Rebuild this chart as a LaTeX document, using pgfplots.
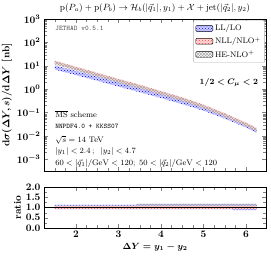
\documentclass[border=0pt]{standalone}
\usepackage{pgfplots}
\pgfplotsset{compat=1.18}
\usetikzlibrary{patterns}
\begin{document}
\begin{tikzpicture}
\pgfplotsset{
  myax/.style={
    scale only axis, width=222pt, xmin=1.25, xmax=6.47,
    tick label style={font=\boldmath},
    minor x tick num=3,
    tick align=inside,
  },
  legend image code/.code={\draw[#1] (0cm,-0.11cm) rectangle (0.6cm,0.11cm);},
  LLst/.style={draw=none, fill=blue!18, postaction={pattern=crosshatch dots, pattern color=blue}},
  NLLst/.style={draw=none, fill=red!15, postaction={pattern=crosshatch dots, pattern color=red!75}},
  HEst/.style={draw=none, pattern=crosshatch, pattern color=gray!70},
}
\begin{axis}[myax, name=main, height=152pt, ymode=log,
  ymin=3.1623e-4, ymax=1e3,
  ytick={1e-3,1e-2,1e-1,1,1e1,1e2,1e3},
  xticklabel=\empty,
  clip=false,
  ylabel={$\mathrm{d}\sigma(\Delta Y, s)/\mathrm{d}\Delta Y$ [nb]},
  ylabel style={font=\bfseries\boldmath, yshift=-2pt},
  title={$\mathrm{p}(P_a) + \mathrm{p}(P_b) \rightarrow \mathcal{H}_b(|\vec{q}_1|, y_1) + \mathcal{X} + \mathrm{jet}(|\vec{q}_2|, y_2)$},
  title style={font=\small, yshift=-3pt},
  legend style={at={(0.995,0.99)}, anchor=north east, font=\footnotesize,
    draw=black!30, rounded corners=1pt, row sep=1pt, inner sep=2pt},
  legend cell align=left,
]
\addplot[LLst, area legend] coordinates {
(1.5,10.47) (2.0,6.03) (2.5,3.467) (3.0,1.950) (3.5,1.122) (4.0,0.631) (4.5,0.3467) (5.0,0.1820) (5.5,0.0832) (6.0,0.03467) (6.25,0.02042)
(6.25,0.01349) (6.0,0.02291) (5.5,0.05495) (5.0,0.1202) (4.5,0.2291) (4.0,0.4169) (3.5,0.7413) (3.0,1.288) (2.5,2.291) (2.0,3.981) (1.5,6.918)
} -- cycle;
\addlegendentry{LL/LO}
\addplot[NLLst, area legend] coordinates {
(1.5,16.60) (2.0,9.120) (2.5,5.012) (3.0,2.754) (3.5,1.549) (4.0,0.8318) (4.5,0.4467) (5.0,0.2188) (5.5,0.09333) (6.0,0.03715) (6.25,0.02188)
(6.25,0.01585) (6.0,0.02692) (5.5,0.06761) (5.0,0.1585) (4.5,0.3236) (4.0,0.6026) (3.5,1.122) (3.0,1.995) (2.5,3.631) (2.0,6.607) (1.5,12.02)
} -- cycle;
\addlegendentry{NLL/NLO$^+$}
\addplot[HEst, area legend] coordinates {
(1.5,15.85) (2.0,8.710) (2.5,4.786) (3.0,2.630) (3.5,1.479) (4.0,0.7943) (4.5,0.4266) (5.0,0.2089) (5.5,0.08913) (6.0,0.03548) (6.25,0.02089)
(6.25,0.01514) (6.0,0.02570) (5.5,0.06457) (5.0,0.1514) (4.5,0.3090) (4.0,0.5754) (3.5,1.072) (3.0,1.905) (2.5,3.467) (2.0,6.310) (1.5,11.48)
} -- cycle;
\addlegendentry{HE-NLO$^+$}
\node[anchor=west, font=\scriptsize\ttfamily, text=black!70] at (rel axis cs:0.035,0.94) {JETHAD v0.5.1};
\node[anchor=west, font=\footnotesize] at (rel axis cs:0.035,0.375) {$\overline{\mathrm{MS}}$ scheme};
\node[anchor=west, font=\scriptsize\ttfamily] at (rel axis cs:0.035,0.295) {NNPDF4.0 + KKSS07};
\node[anchor=west, font=\footnotesize] at (rel axis cs:0.035,0.205) {$\sqrt{s} = 14$ TeV};
\node[anchor=west, font=\footnotesize] at (rel axis cs:0.035,0.128) {$|y_1| < 2.4\,;\;\; |y_2| < 4.7$};
\node[anchor=west, font=\footnotesize] at (rel axis cs:0.035,0.05) {$60 < |\vec{q}_1|/\mathrm{GeV} < 120;\; 50 < |\vec{q}_2|/\mathrm{GeV} < 120$};
\node[anchor=east, font=\footnotesize\boldmath] at (rel axis cs:0.98,0.58) {$1/2 < C_{\mu} < 2$};
\end{axis}
\begin{axis}[myax, at={(main.south west)}, anchor=north west, yshift=-16pt,
  height=41pt, ymin=0, ymax=2, ytick={0,0.5,1,1.5,2},
  minor y tick num=1,
  yticklabel style={/pgf/number format/fixed, /pgf/number format/fixed zerofill, /pgf/number format/precision=1},
  xtick={2,3,4,5,6},
  ylabel={\textbf{ratio}}, ylabel style={yshift=-2pt},
  xlabel={$\Delta Y = y_1 - y_2$}, xlabel style={font=\small\boldmath, yshift=2pt},
]
\addplot[LLst] coordinates {
(1.5,1.14) (3.4,1.14) (3.45,1.18) (6.25,1.18) (6.25,0.87) (5.7,0.87) (5.65,0.91) (1.5,0.91)} -- cycle;
\addplot[HEst] coordinates {
(1.5,1.10) (3.4,1.10) (3.45,1.16) (6.25,1.16) (6.25,0.93) (1.5,0.93)} -- cycle;
\addplot[NLLst] coordinates {
(1.5,1.05) (6.25,1.05) (6.25,0.95) (1.5,0.95)} -- cycle;
\addplot[black, thin] coordinates {(1.25,1) (6.47,1)};
\end{axis}
\pgfresetboundingbox
\path[use as bounding box] ([xshift=-44pt,yshift=19pt]main.north west) rectangle ([xshift=5pt,yshift=-87pt]main.south east);
\end{tikzpicture}
\end{document}
